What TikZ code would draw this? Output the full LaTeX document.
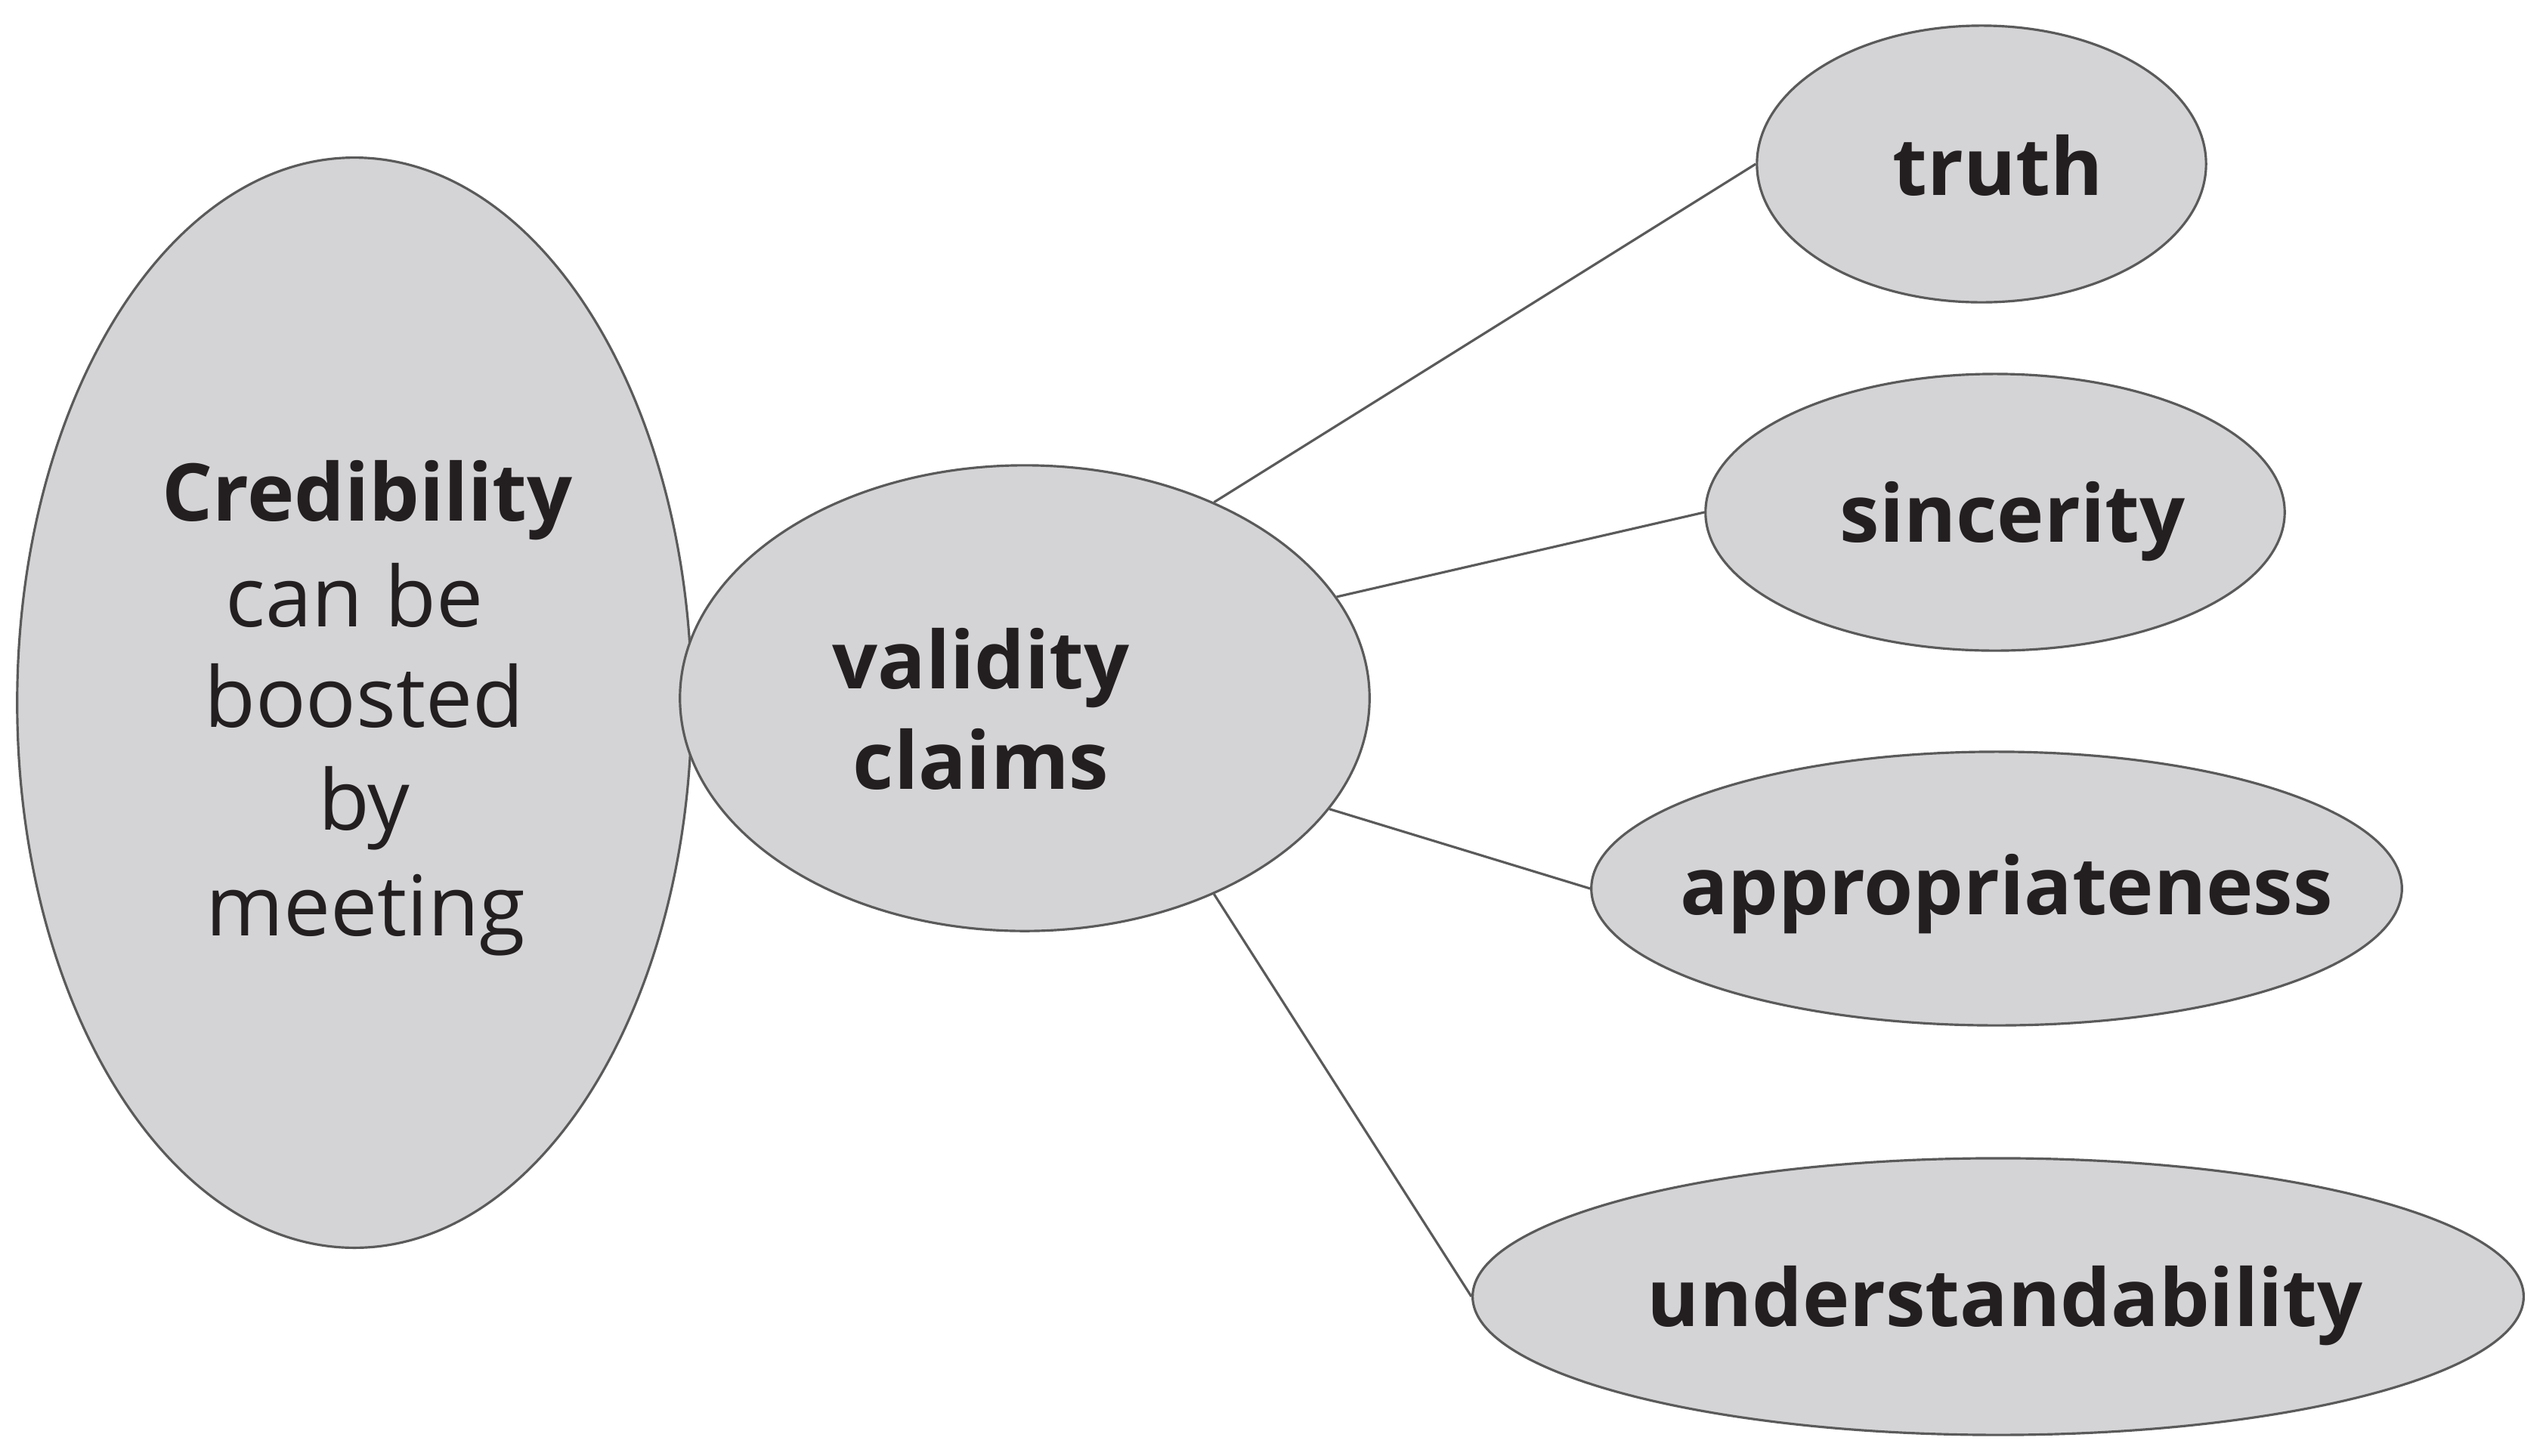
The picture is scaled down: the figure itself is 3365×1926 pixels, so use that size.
\documentclass[tikz,border=0pt]{standalone}
\usepackage{fontspec}
\setmainfont{Open Sans}
\usetikzlibrary{shapes.geometric}
\definecolor{fillgray}{HTML}{D4D4D6}
\definecolor{edgegray}{HTML}{5A5A5A}
\definecolor{txt}{HTML}{231F20}
\begin{document}
\begin{tikzpicture}[x=0.01cm,y=-0.01cm,
  bubble/.style={ellipse,draw=edgegray,fill=fillgray,line width=0.9pt,inner sep=0pt},
  word/.style={anchor=base,text=txt,font=\fontsize{31.5}{31.5}\selectfont,inner sep=0pt},
  bword/.style={word,font=\fontsize{30}{30}\selectfont\bfseries},
  link/.style={draw=edgegray,line width=0.9pt}]
\useasboundingbox (0,0) rectangle (3365,1926);
\node[bubble,minimum width=8.92cm,minimum height=14.42cm] (cred) at (469,930) {};
\node[bubble,minimum width=9.12cm,minimum height=6.16cm] (vc) at (1356,924) {};
\node[bubble,minimum width=5.94cm,minimum height=3.66cm] (truth) at (2622,217) {};
\node[bubble,minimum width=7.66cm,minimum height=3.66cm] (sinc) at (2640,678) {};
\node[bubble,minimum width=10.72cm,minimum height=3.62cm] (appr) at (2642,1176) {};
\node[bubble,minimum width=13.90cm,minimum height=3.66cm] (und) at (2644,1716) {};
\draw[link] (vc.46.7) -- (truth.west);
\draw[link] (vc.18.6) -- (sinc.west);
\draw[link] (vc.-20.2) -- (appr.west);
\draw[link] (vc.-46) -- (und.west);
\node[bword] (t1) at (486,689) {Credibility};
\node[word] (t2) at (469,829) {can be};
\node[word] (t3) at (482,962) {boosted};
\node[word] (t4) at (482,1098) {by};
\node[word] (t5) at (484,1238) {meeting};
\node[bword] (t6) at (1298,911) {validity};
\node[bword] (t7) at (1298,1044) {claims};
\node[bword] (t8) at (2644,258) {truth};
\node[bword] (t9) at (2663,717) {sincerity};
\node[bword] (t10) at (2655,1210) {appropriateness};
\node[bword] (t11) at (2653,1755) {understandability};
\end{tikzpicture}
\end{document}
